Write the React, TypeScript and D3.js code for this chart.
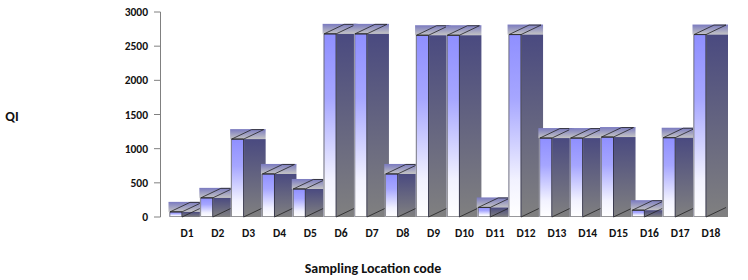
import React from "react";
import * as d3 from "d3";

const categories = ["D1","D2","D3","D4","D5","D6","D7","D8","D9","D10","D11","D12","D13","D14","D15","D16","D17","D18"];
const values = [75,280,1140,630,410,2680,2680,630,2660,2660,140,2670,1155,1155,1170,100,1160,2670];
const ticks = [0,500,1000,1500,2000,2500,3000];

const font = "Carlito, 'Open Sans', 'Noto Sans', sans-serif";

export default function App() {
  const y = d3.scaleLinear().domain([0,3000]).range([217,12]);
  const x = d3.scalePoint<string>().domain(categories).range([170,694]);
  const w = 12, dx = 20, dy = 9.5, sideW = 34, band = 10;
  return (
    <svg width={748} height={280} style={{position:"absolute",left:0,top:0,background:"#fff"}} fontFamily={font}>
      <defs>
        <linearGradient id="front" x1="0" y1="0" x2="0" y2="1">
          <stop offset="0" stopColor="#8f8fff"/>
          <stop offset="0.35" stopColor="#a6a6ff"/>
          <stop offset="0.8" stopColor="#f2f2ff"/>
          <stop offset="1" stopColor="#ffffff"/>
        </linearGradient>
        <linearGradient id="side" x1="0" y1="0" x2="0" y2="1">
          <stop offset="0" stopColor="#4a4a80"/>
          <stop offset="1" stopColor="#808080"/>
        </linearGradient>
        <linearGradient id="sideTall" gradientUnits="userSpaceOnUse" x1="0" y1="34" x2="0" y2="217">
          <stop offset="0" stopColor="#4a4a80"/>
          <stop offset="1" stopColor="#808080"/>
        </linearGradient>
        <linearGradient id="top" x1="0" y1="0" x2="0" y2="1">
          <stop offset="0" stopColor="#7a7ac0"/>
          <stop offset="1" stopColor="#c4c4c4"/>
        </linearGradient>
      </defs>
      <line x1={160.5} x2={160.5} y1={12} y2={217} stroke="#808080" strokeWidth={1}/>
      {ticks.map(t => (
        <g key={t}>
          <line x1={154} x2={160.5} y1={y(t)} y2={y(t)} stroke="#808080"/>
          <text x={148} y={y(t)+4} textAnchor="end" fontSize={11.5} fontWeight={700} fill="#111">{t}</text>
        </g>
      ))}
      {categories.map((c,i) => {
        const x0 = x(c)!;
        const t = y(values[i]);
        const b = y(0);
        return (
          <g key={c}>
            <rect x={x0-1.5} y={t-band} width={sideW+1.5} height={band} fill="url(#top)"/>
            <rect x={x0+w} y={t} width={sideW-w} height={b-t} fill="url(#side)"/>
            <rect x={x0-1} y={t} width={w+1.5} height={b-t} fill="#b8b8c8"/>
            <rect x={x0} y={t} width={w} height={b-t-0.5} fill="url(#front)" stroke="#555" strokeWidth={0.5}/>
            <line x1={x0+w} x2={x0+w} y1={t} y2={b} stroke="#222238" strokeWidth={0.8}/>
            <path d={`M${x0},${t}L${x0+dx},${t-dy}L${x0+w+dx},${t-dy}L${x0+w},${t}Z`} fill="none" stroke="#222" strokeWidth={0.8}/>
            <line x1={x0} x2={x0+w} y1={t} y2={t} stroke="#333" strokeWidth={0.8}/>
            <line x1={x0+w} x2={x0+w+dx} y1={b} y2={b-dy} stroke="#222" strokeWidth={0.8}/>
            <text x={x0+17} y={237} textAnchor="middle" fontSize={11.5} fontWeight={700} fill="#111">{c}</text>
          </g>
        );
      })}
      <text x={12} y={121} textAnchor="middle" fontSize={14} fontWeight={700} fill="#111">QI</text>
      <text x={373} y={273} textAnchor="middle" fontSize={14} fontWeight={700} fill="#111">Sampling Location code</text>
    </svg>
  );
}
